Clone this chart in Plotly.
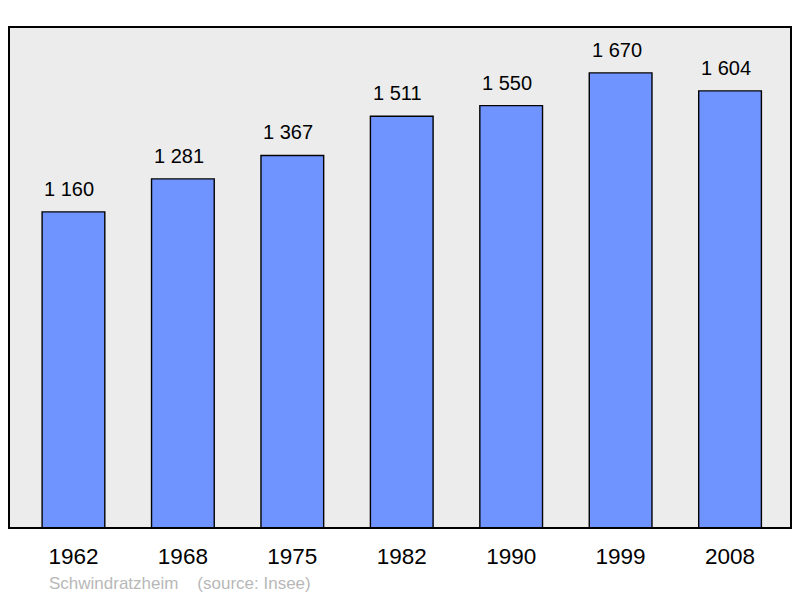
import plotly.graph_objects as go

years = ["1962", "1968", "1975", "1982", "1990", "1999", "2008"]
population = [1160, 1281, 1367, 1511, 1550, 1670, 1604]
labels = ["1 160", "1 281", "1 367", "1 511", "1 550", "1 670", "1 604"]
footer = "Schwindratzheim\u00a0\u00a0\u00a0\u00a0(source: Insee)"

xs = list(range(len(years)))

W, H = 792, 590
ML, MR, MT, MB = 1, 9, 19, 70
plot_w = W - ML - MR
plot_h = H - MT - MB

fig = go.Figure()
fig.add_trace(go.Bar(
    x=xs, y=population, width=0.573,
    marker=dict(color="rgb(112,148,255)", line=dict(color="black", width=1.4)),
    hoverinfo="skip",
))

for x, v, t in zip(xs, population, labels):
    fig.add_annotation(x=x, y=v, text=t, showarrow=False, yanchor="bottom",
                       yshift=10, xshift=-4,
                       font=dict(size=20, color="black",
                                 family="Liberation Sans, Arial, sans-serif"))

fig.add_annotation(xref="paper", yref="paper",
                   x=(39 - ML) / plot_w, y=-(575 - 520) / plot_h,
                   xanchor="left", yanchor="middle", showarrow=False,
                   text=footer, font=dict(size=17, color="#b8b8b8"))

fig.update_layout(
    width=W, height=H,
    margin=dict(l=ML, r=MR, t=MT, b=MB),
    paper_bgcolor="white", plot_bgcolor="#ececec",
    showlegend=False,
    font=dict(family="Liberation Sans, Arial, sans-serif"),
    xaxis=dict(range=[-0.589, 6.557], tickmode="array", tickvals=xs, ticktext=years,
               showgrid=False, zeroline=False, ticks="", tickfont=dict(size=22.5, color="black"),
               ticklabelstandoff=12),
    yaxis=dict(range=[0, 1838.5], showgrid=False, zeroline=False, showticklabels=False),
    shapes=[dict(type="rect", xref="paper", yref="paper", x0=0, x1=1, y0=0, y1=1,
                 line=dict(color="black", width=2), layer="above")],
)

fig.write_html("out.html")
